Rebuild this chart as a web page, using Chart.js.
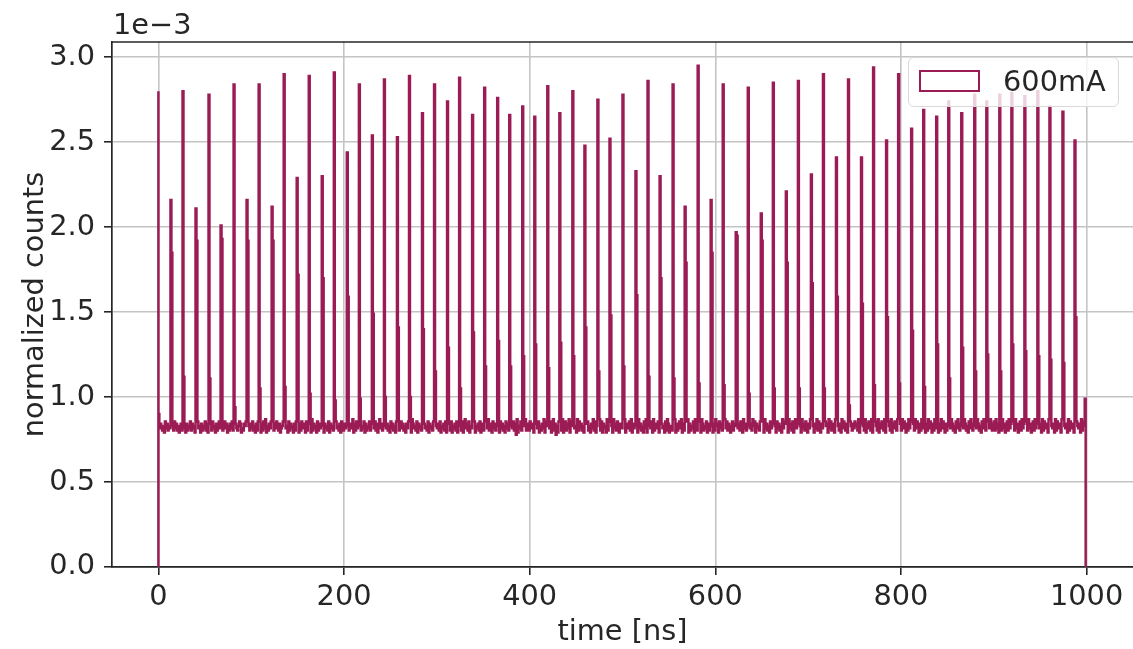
<!DOCTYPE html>
<html>
<head>
<meta charset="utf-8">
<script src="https://cdn.jsdelivr.net/npm/chart.js@4.4.1/dist/chart.umd.min.js"></script>
<style>
    html, body { margin: 0; padding: 0; background: #fff; }
    #wrap { position: relative; width: 1133px; height: 649px; }
    #offset { position: absolute; left: 113px; top: 10px; font: 28.8px 'DejaVu Sans'; line-height: 29px; color: #262626; }
    #legend { position: absolute; left: 908px; top: 57px; width: 209px; height: 48px; border: 1.5px solid #d9d9d9; border-radius: 6px; background: rgba(255, 255, 255, 0.8); }
    #legend .patch { position: absolute; left: 10px; top: 12px; width: 57px; height: 18px; border: 2px solid #9b1b55; }
    #legend .label { position: absolute; left: 94px; top: 9px; font: 28.8px 'DejaVu Sans'; line-height: 29px; color: #262626; }
</style>
</head>
<body>
<div id="wrap">
    <canvas id="histChart" width="1133" height="649"></canvas>
    <div id="offset">1e&minus;3</div>
    <div id="legend"><div class="patch"></div><div class="label">600mA</div></div>
</div>
<script>
// 1 ns bins from 0 to 1000 ns, values in units of 1e-3
const binCount = 1000
const xTicks = [0, 200, 400, 600, 800, 1000]
const yTicks = [0, 0.5, 1.0, 1.5, 2.0, 2.5, 3.0]

// bin (ns) of each pulse peak
const peakNs = [0, 14, 27, 41, 55, 68, 82, 96, 109, 123,
    136, 150, 163, 177, 190, 204, 217, 231, 244, 258,
    271, 285, 298, 312, 325, 339, 352, 366, 379, 393,
    406, 420, 433, 447, 460, 474, 487, 501, 515, 528,
    541, 555, 568, 582, 596, 609, 623, 636, 650, 663,
    677, 690, 704, 717, 731, 744, 758, 771, 785, 798,
    812, 825, 839, 852, 866, 880, 893, 907, 920, 934,
    948, 961, 975, 988]

const peakHeights = [2.80, 2.16, 2.80, 2.11, 2.78, 2.01, 2.84, 2.16, 2.84, 2.12,
    2.90, 2.29, 2.89, 2.30, 2.91, 2.44, 2.84, 2.54, 2.87, 2.53,
    2.89, 2.67, 2.84, 2.74, 2.88, 2.66, 2.82, 2.76, 2.66, 2.71,
    2.65, 2.83, 2.67, 2.80, 2.48, 2.75, 2.52, 2.78, 2.33, 2.86,
    2.30, 2.84, 2.12, 2.95, 2.16, 2.84, 1.97, 2.82, 2.08, 2.85,
    2.21, 2.86, 2.31, 2.90, 2.41, 2.87, 2.41, 2.94, 2.51, 2.90,
    2.58, 2.69, 2.65, 2.74, 2.67, 2.78, 2.74, 2.78, 2.79, 2.77,
    2.80, 2.71, 2.68, 2.51]

// second bin of each pulse
const shoulderHeights = [0.90, 1.85, 1.12, 1.92, 1.11, 1.93, 0.94, 1.92, 1.05, 1.92,
    1.06, 1.72, 1.02, 1.70, 0.98, 1.59, 0.99, 1.49, 1.00, 1.41,
    1.00, 1.40, 1.15, 1.29, 1.05, 1.38, 1.18, 1.33, 1.18, 1.24,
    1.31, 1.17, 1.32, 1.24, 1.41, 1.15, 1.48, 1.18, 1.60, 1.12,
    1.70, 1.11, 1.79, 1.08, 1.85, 1.07, 1.95, 1.02, 1.92, 1.05,
    1.79, 1.05, 1.67, 1.05, 1.59, 0.95, 1.55, 1.07, 1.47, 1.08,
    1.39, 1.06, 1.31, 1.11, 1.29, 1.15, 1.25, 1.15, 1.31, 1.27,
    1.24, 1.22, 1.20, 1.47]

const lastBinValue = 0.99

// background level per bin, digit d means 0.765 + 0.013 * d
const baselineDigits = [
    '53464352746354625374635246375426354736452637452635',
    '47362546375426357461357462536473526435762436574253',
    '64735263745263748253647253647536245736452736452637',
    '45263746527364528364527364537264537264536274536275',
    '36452736458263745263547263547362547362584635274635',
    '27463527463574635264735286453726453726453726453726',
    '54637254637254637254637254637258463725463725463725',
    '63527483652746351827463527463925473618254736258364',
    '37465283647253648275364725836152746382573648275364',
    '52837463528467352648372564837264528374652846375264',
    '47382654738264537284635274826354728364572836452738',
    '62453748263574826354782635472863547286354726354826',
    '38562746352847365247365824637528463572463857264537',
    '53728463527463852746352847635284637258463752846375',
    '26483752648375264837562847356284753628475362847536',
    '47563826475382647538264753826475382647538264753826',
    '63847526384752638475263847526384752638475263847526',
    '35274863527486352748635274863527486352748635274863',
    '57384625738462573846257384625738462573846257384625',
    '46283754628375462837546283754628375462837546283754'
]

const lineColor = '#9b1b55'
const textColor = '#262626'
const tickFont = { family: 'DejaVu Sans', size: 28.8 }

const digits = baselineDigits.join('')
const counts = []
for (let i = 0; i < binCount; i++) counts.push(0.765 + 0.013 * Number(digits[i]))
peakNs.forEach((ns, k) => {
    counts[ns] = peakHeights[k]
    if (ns + 1 < binCount) counts[ns + 1] = shoulderHeights[k]
})
counts[binCount - 1] = lastBinValue

const points = [{ x: 0, y: 0 }]
counts.forEach((v, i) => points.push({ x: i, y: v }))
points.push({ x: binCount, y: 0 })

const topSpine = {
    id: 'topSpine',
    afterDraw(chart) {
        const { ctx, chartArea } = chart
        ctx.save()
        ctx.strokeStyle = textColor
        ctx.lineWidth = 1.7
        ctx.beginPath()
        ctx.moveTo(chartArea.left, chartArea.top)
        ctx.lineTo(chartArea.right, chartArea.top)
        ctx.stroke()
        ctx.restore()
    }
}

const gridOpts = { color: '#c4c4c4', lineWidth: 1.6, tickColor: textColor, tickLength: 8, tickWidth: 1.6 }
const borderOpts = { display: true, color: textColor, width: 1.7 }

new Chart(document.getElementById('histChart'), {
    type: 'line',
    data: {
        datasets: [{
            label: '600mA',
            data: points,
            borderColor: lineColor,
            borderWidth: 2.5,
            pointRadius: 0,
            stepped: 'after',
            fill: false,
            tension: 0
        }]
    },
    options: {
        responsive: false,
        animation: false,
        layout: { padding: { top: 42, right: 0, left: 0, bottom: 0 } },
        plugins: { legend: { display: false }, tooltip: { enabled: false } },
        scales: {
            x: {
                type: 'linear',
                min: -50,
                max: 1050,
                afterBuildTicks: s => { s.ticks = xTicks.map(v => ({ value: v })) },
                afterFit: s => { s.height = 82 },
                grid: gridOpts,
                border: borderOpts,
                ticks: { font: tickFont, color: textColor, padding: 5, maxRotation: 0, callback: v => String(v) },
                title: { display: true, text: 'time [ns]', color: textColor, font: { family: 'DejaVu Sans', size: 28.8, lineHeight: 1 }, padding: { top: 0, bottom: 2 } }
            },
            y: {
                type: 'linear',
                min: 0,
                max: 3.09,
                afterBuildTicks: s => { s.ticks = yTicks.map(v => ({ value: v })) },
                afterFit: s => { s.width = 112 },
                grid: gridOpts,
                border: borderOpts,
                ticks: { font: tickFont, color: textColor, padding: 9, callback: v => v.toFixed(1) },
                title: { display: true, text: 'normalized counts', color: textColor, font: { family: 'DejaVu Sans', size: 28.8, lineHeight: 1 }, padding: { top: 21, bottom: 0 } }
            }
        }
    },
    plugins: [topSpine]
})
</script>
</body>
</html>
